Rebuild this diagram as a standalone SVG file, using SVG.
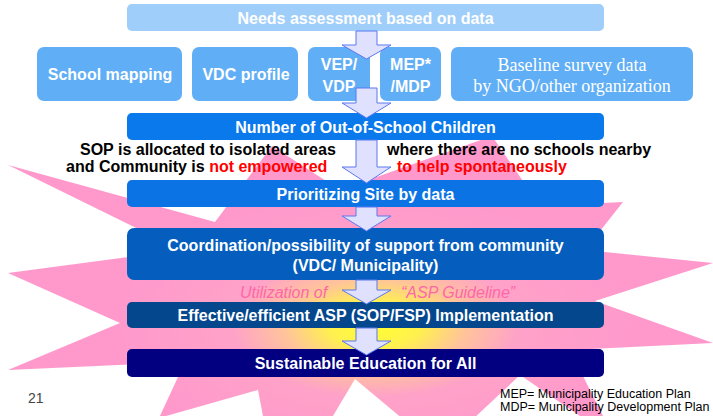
<svg xmlns="http://www.w3.org/2000/svg" width="713" height="416" viewBox="0 0 713 416">
<defs>
<radialGradient id="burst" gradientUnits="userSpaceOnUse" cx="375" cy="325" r="260" gradientTransform="translate(375 325) scale(1 0.5) translate(-375 -325)">
<stop offset="0" stop-color="#FFFF30"/>
<stop offset="0.18" stop-color="#FFF050"/>
<stop offset="0.35" stop-color="#FFC49A"/>
<stop offset="0.55" stop-color="#FFA2C8"/>
<stop offset="1" stop-color="#FF99CC"/>
</radialGradient>
<style>
.box text{font-family:"Liberation Sans",Arial,sans-serif;font-weight:bold;font-size:16px;fill:#fff;text-anchor:middle}
.box text.serif{font-family:"Liberation Serif","Times New Roman",serif;font-weight:normal;font-size:18px}
.arrow{fill:#E0E0FF;stroke:#5A78F0;stroke-width:1}
.note{font-family:"Liberation Sans",Arial,sans-serif;font-weight:bold;font-size:16px;fill:#000}
.red{fill:#FF0000}
.pink{font-family:"Liberation Sans",Arial,sans-serif;font-style:italic;font-size:16px;fill:#FF66AA}
.small{font-family:"Liberation Sans",Arial,sans-serif;font-size:12.5px;fill:#000}
</style>
</defs>
<rect width="713" height="416" fill="#fff"/>
<polygon id="starburst" fill="url(#burst)" points="8,165 215,222 272,146 340,190 492,136 540,206 623,202 585,250 713,263 595,301 713,343 570,350 615,440 520,375 440,450 355,379 280,505 258,390 159,418 185,362 8,370 120,323 8,273 181,250"/>

<g id="needs" class="box"><rect x="127" y="4" width="477" height="27" rx="5" fill="#A0CEFA"/><text x="365.5" y="24">Needs assessment based on data</text></g>
<g id="school-mapping" class="box"><rect x="37" y="47" width="145" height="54" rx="7" fill="#60AEF5"/><text x="110" y="80">School mapping</text></g>
<g id="vdc-profile" class="box"><rect x="192" y="47" width="106" height="54" rx="7" fill="#60AEF5"/><text x="246" y="80">VDC profile</text></g>
<g id="vep-vdp" class="box"><rect x="308" y="47" width="62" height="54" rx="7" fill="#60AEF5"/><text x="339" y="70">VEP/</text><text x="339" y="92">VDP</text></g>
<g id="mep-mdp" class="box"><rect x="380" y="47" width="61" height="54" rx="7" fill="#60AEF5"/><text x="410.5" y="70">MEP*</text><text x="410.5" y="92">/MDP</text></g>
<g id="baseline" class="box"><rect x="451" y="47" width="242" height="54" rx="7" fill="#60AEF5"/><text class="serif" x="572" y="71">Baseline survey data</text><text class="serif" x="572" y="92">by NGO/other organization</text></g>
<g id="out-of-school" class="box"><rect x="127" y="113" width="477" height="27" rx="5" fill="#0A79EC"/><text x="365.5" y="133">Number of Out-of-School Children</text></g>
<g id="prioritizing" class="box"><rect x="127" y="180" width="477" height="27" rx="5" fill="#0B73E3"/><text x="365.5" y="200">Prioritizing Site by data</text></g>
<g id="coordination" class="box"><rect x="127" y="228" width="477" height="52" rx="7" fill="#055EBD"/><text x="365.5" y="251">Coordination/possibility of support from community</text><text x="365.5" y="271">(VDC/ Municipality)</text></g>
<g id="implementation" class="box"><rect x="127" y="302" width="477" height="26" rx="5" fill="#05478D"/><text x="365.5" y="321">Effective/efficient ASP (SOP/FSP) Implementation</text></g>
<g id="sustainable" class="box"><rect x="127" y="349" width="477" height="28" rx="5" fill="#020080"/><text x="365.5" y="369">Sustainable Education for All</text></g>

<g id="connectors">
<polygon class="arrow" points="356,31 377,31 377,45 391,45 366.5,59 342,45 356,45"/>
<polygon class="arrow" points="356,88 377,88 377,103 391,103 366.5,118 342,103 356,103"/>
<polygon class="arrow" points="356,140 377,140 377,167 391,167 366.5,183 342,167 356,167"/>
<polygon class="arrow" points="356,207 377,207 377,216 391,216 366.5,231 342,216 356,216"/>
<polygon class="arrow" points="356,280 377,280 377,290 391,290 366.5,304 342,290 356,290"/>
<polygon class="arrow" points="356,328 377,328 377,341 391,341 366.5,355 342,341 356,341"/>
</g>

<g id="annotations">
<text class="note" x="80" y="155">SOP is allocated to isolated areas</text>
<text class="note" x="387" y="155">where there are no schools nearby</text>
<text class="note" x="66" y="172">and Community is <tspan class="red">not empowered</tspan></text>
<text class="note red" x="397" y="172">to help spontaneously</text>
<text class="pink" x="240" y="298">Utilization of</text>
<text class="pink" x="401" y="298">“ASP Guideline”</text>
<text x="28" y="403" style="font-family:'Liberation Sans',Arial,sans-serif;font-size:14px;fill:#444">21</text>
<text class="small" x="500" y="398">MEP= Municipality Education Plan</text>
<text class="small" x="500" y="411">MDP= Municipality Development Plan</text>
</g>
</svg>
